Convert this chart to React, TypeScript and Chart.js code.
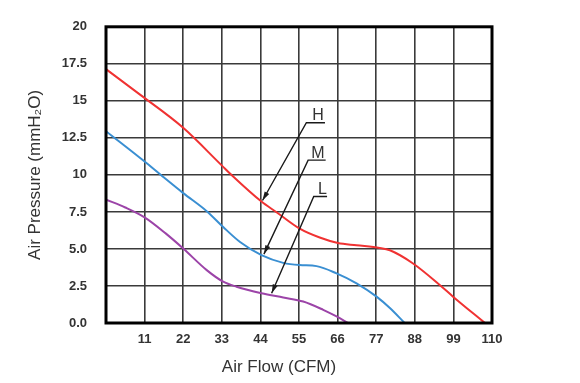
import React, { useEffect, useRef } from 'react';
import { Chart, registerables } from 'chart.js';

Chart.register(...registerables);

// ---- Data ----
const hFlow = [0, 9.7, 22, 32.9, 35.8, 44.3, 48.6, 55.2, 60.9, 66.1, 71.4, 78, 80.9, 87.5, 95.1, 98.9, 108];
const hPressure = [17.14, 15.42, 13.18, 10.66, 9.99, 8.2, 7.48, 6.37, 5.77, 5.4, 5.25, 5.07, 4.91, 4.02, 2.57, 1.78, 0];

const mFlow = [0, 11, 15.9, 22, 28.7, 33.4, 38.2, 44.3, 50.5, 55.2, 60, 65.7, 71.4, 77.1, 80.9, 85.1];
const mPressure = [12.95, 10.9, 9.94, 8.77, 7.55, 6.48, 5.47, 4.58, 4.06, 3.91, 3.84, 3.35, 2.68, 1.78, 1.01, 0];

const lFlow = [0, 5.5, 11.1, 17, 22, 28.7, 33.4, 37.2, 44.3, 50.5, 56.2, 61.9, 65.7, 69];
const lPressure = [8.33, 7.8, 7.12, 6.05, 5.03, 3.57, 2.79, 2.45, 2.01, 1.72, 1.45, 0.89, 0.44, 0];

const yTickLabels = ['0.0', '2.5', '5.0', '7.5', '10', '12.5', '15', '17.5', '20'];
const xAxisTitle = 'Air Flow (CFM)';
const yAxisTitle = 'Air Pressure (mmH\u2082O)';

// Curve call-outs: label, underline start/end (flow), underline level (pressure), arrow tip
const calloutLabels = ['H', 'M', 'L'];
const calloutLineStartX = [57.1, 57.6, 59.2];
const calloutLineEndX = [62.4, 62.6, 63.0];
const calloutLineY = [13.52, 11.0, 8.54];
const calloutTextX = [60.4, 60.4, 61.7];
const calloutTipX = [44.6, 45.0, 47.2];
const calloutTipY = [8.27, 4.65, 2.01];

const FONT = '"Liberation Sans", Arial, sans-serif';

const overlay = {
  id: 'overlay',
  afterDraw(chart: any) {
    const { ctx, chartArea: a, scales } = chart;
    const x = scales.x;
    const y = scales.y;
    ctx.save();
    // frame
    ctx.strokeStyle = '#000';
    ctx.lineWidth = 3;
    ctx.strokeRect(a.left, a.top, a.right - a.left, a.bottom - a.top);

    // call-outs
    for (let i = 0; i < calloutLabels.length; i++) {
      const sx = x.getPixelForValue(calloutLineStartX[i]);
      const ex = x.getPixelForValue(calloutLineEndX[i]);
      const sy = y.getPixelForValue(calloutLineY[i]);
      const tx = x.getPixelForValue(calloutTipX[i]);
      const ty = y.getPixelForValue(calloutTipY[i]);
      ctx.strokeStyle = '#1a1a1a';
      ctx.fillStyle = '#1a1a1a';
      ctx.lineWidth = 1.4;
      ctx.beginPath();
      ctx.moveTo(ex, sy);
      ctx.lineTo(sx, sy);
      ctx.lineTo(tx, ty);
      ctx.stroke();
      const ang = Math.atan2(ty - sy, tx - sx);
      const L = 9;
      const W = 2.6;
      const c = Math.cos(ang);
      const s = Math.sin(ang);
      ctx.beginPath();
      ctx.moveTo(tx, ty);
      ctx.lineTo(tx - L * c + W * s, ty - L * s - W * c);
      ctx.lineTo(tx - L * c - W * s, ty - L * s + W * c);
      ctx.closePath();
      ctx.fill();
      ctx.fillStyle = '#333';
      ctx.font = `16px ${FONT}`;
      ctx.textAlign = 'center';
      ctx.textBaseline = 'alphabetic';
      ctx.fillText(calloutLabels[i], x.getPixelForValue(calloutTextX[i]), sy - 2.5);
    }

    // x axis title
    ctx.fillStyle = '#333';
    ctx.font = `17px ${FONT}`;
    ctx.textAlign = 'center';
    ctx.textBaseline = 'middle';
    ctx.fillText(xAxisTitle, a.left + 173, 367);
    ctx.restore();
  },
};

const toPoints = (xs: number[], ys: number[]) => xs.map((v, i) => ({ x: v, y: ys[i] }));

export default function App() {
  const ref = useRef<HTMLCanvasElement>(null);

  useEffect(() => {
    if (!ref.current) return;
    const chart = new Chart(ref.current, {
      type: 'line',
      data: {
        datasets: [
          { label: 'H', data: toPoints(hFlow, hPressure), borderColor: '#f03232', borderWidth: 2 },
          { label: 'M', data: toPoints(mFlow, mPressure), borderColor: '#3a8fd2', borderWidth: 2 },
          { label: 'L', data: toPoints(lFlow, lPressure), borderColor: '#9c44a8', borderWidth: 2 },
        ],
      },
      options: {
        animation: false,
        responsive: false,
        maintainAspectRatio: false,
        layout: { padding: { left: 0, top: 25, right: 88, bottom: 0 } },
        elements: {
          point: { radius: 0, hoverRadius: 0 },
          line: { tension: 0.4, cubicInterpolationMode: 'monotone', fill: false },
        },
        plugins: { legend: { display: false }, tooltip: { enabled: false } },
        scales: {
          x: {
            type: 'linear',
            min: 0,
            max: 110,
            afterFit: (s: any) => { s.height = 60; },
            border: { display: false },
            grid: { color: '#3a3a3a', lineWidth: 1.6, drawTicks: false },
            ticks: {
              stepSize: 11,
              padding: 9,
              color: '#333',
              font: { family: FONT, size: 13, weight: 'bold' },
              maxRotation: 0,
              callback: (v: any) => (v === 0 ? '' : String(v)),
            },
          },
          y: {
            type: 'linear',
            min: 0,
            max: 20,
            afterFit: (s: any) => { s.width = 106; },
            border: { display: false },
            grid: { color: '#3a3a3a', lineWidth: 1.6, drawTicks: false },
            title: {
              display: true,
              text: yAxisTitle,
              color: '#333',
              font: { family: FONT, size: 17 },
              padding: { top: 25, bottom: 0 },
            },
            ticks: {
              stepSize: 2.5,
              padding: 19,
              color: '#333',
              font: { family: FONT, size: 13, weight: 'bold' },
              callback: (v: any) => yTickLabels[Math.round(Number(v) / 2.5)] ?? '',
            },
          },
        },
      },
      plugins: [overlay],
    } as any);
    return () => chart.destroy();
  }, []);

  return (
    <div style={{ position: 'absolute', left: 0, top: 0, width: 580, height: 383, background: '#fff' }}>
      <canvas ref={ref} width={580} height={383} />
    </div>
  );
}
